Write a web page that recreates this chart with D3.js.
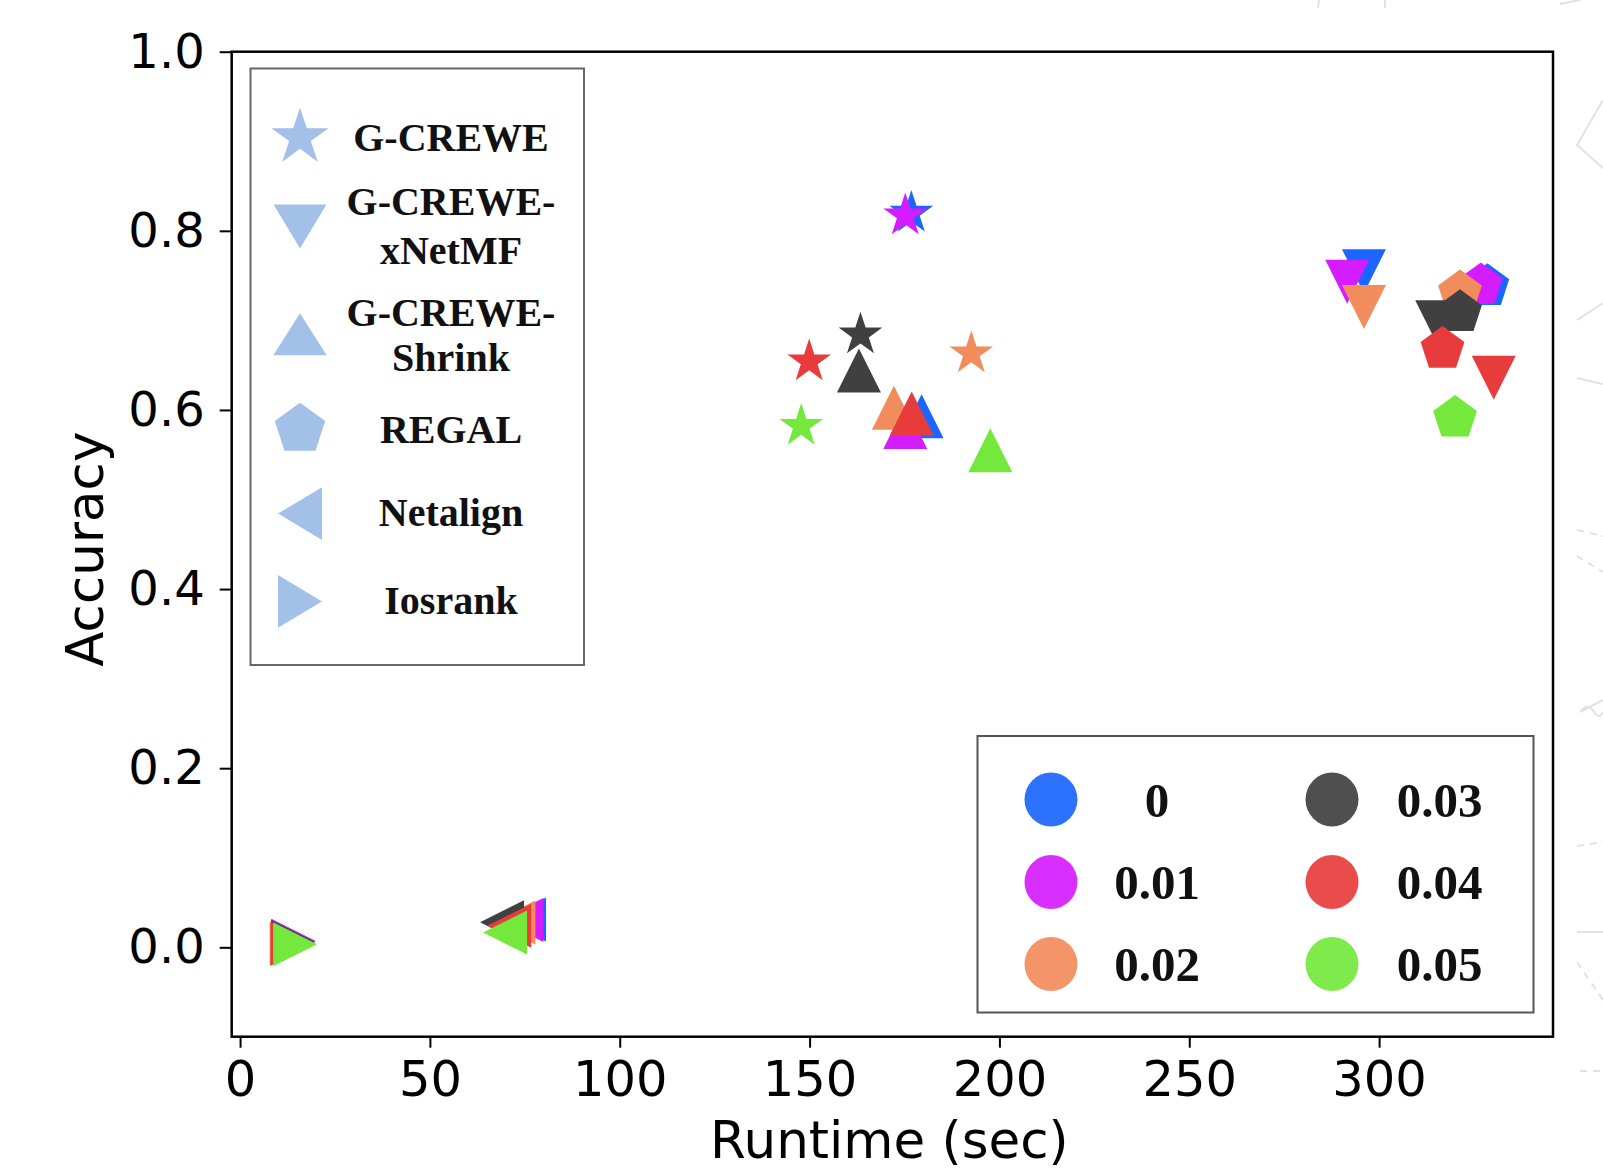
<!DOCTYPE html>
<html>
<head>
<meta charset="utf-8">
<script src="https://cdn.jsdelivr.net/npm/d3@7"></script>
<style>
  body { margin: 0; background: #fff; }
  svg { display: block; }
</style>
</head>
<body>
<div id="chart"></div>
<script>
// noise levels, one colour per level
var noiseLevels = ["0", "0.01", "0.02", "0.03", "0.04", "0.05"];
var noiseColors = ["#1a66ff", "#d51cff", "#f28c5c", "#404040", "#e83c3c", "#74e83c"];

// methods and the marker used for each
var methods = ["G-CREWE", "G-CREWE-xNetMF", "G-CREWE-Shrink", "REGAL", "Netalign", "Iosrank"];
var methodLabels = [["G-CREWE"], ["G-CREWE-", "xNetMF"], ["G-CREWE-", "Shrink"], ["REGAL"], ["Netalign"], ["Iosrank"]];
var methodShapes = ["star", "down", "up", "pentagon", "left", "right"];

// runtime (sec) per noise level (null = not plotted)
var runtimeGCrewe  = [176.8, 175.2, 192.6, 163.4, 149.9, 147.8];
var runtimeXNetMF  = [296.0, 291.6, 296.0, 315.3, 330.2, null];
var runtimeShrink  = [179.5, 175.2, 172.2, 163.0, 176.9, 197.6];
var runtimeRegal   = [328.5, 326.8, 321.3, 321.3, 316.7, 320.0];
var runtimeNetalign = [74.8, 74.1, 72.0, 69.0, 70.9, 69.8];
var runtimeIosrank = [14.0, 14.1, 13.6, 14.0, 13.8, 14.5];

// accuracy per noise level
var accGCrewe  = [0.820, 0.817, 0.663, 0.684, 0.654, 0.582];
var accXNetMF  = [0.755, 0.743, 0.715, 0.698, 0.636, null];
var accShrink  = [0.593, 0.581, 0.6025, 0.644, 0.596, 0.555];
var accRegal   = [0.738, 0.739, 0.731, 0.709, 0.668, 0.591];
var accNetalign = [0.031, 0.0305, 0.0277, 0.028, 0.024, 0.0165];
var accIosrank = [0.007, 0.007, 0.004, 0.006, 0.004, 0.0035];

var xTicks = [0, 50, 100, 150, 200, 250, 300];
var yTicks = [0.0, 0.2, 0.4, 0.6, 0.8, 1.0];

var runtimes = [runtimeGCrewe, runtimeXNetMF, runtimeShrink, runtimeRegal, runtimeNetalign, runtimeIosrank];
var accuracies = [accGCrewe, accXNetMF, accShrink, accRegal, accNetalign, accIosrank];

// custom symbol types, size = radius squared, aspect stretches the base of triangles
function triangle(dir, aspect) {
    aspect = aspect || 1;
    return {
        draw: function(ctx, size) {
            var r = Math.sqrt(size), b = r * aspect;
            var pts;
            if (dir === "up") pts = [[0, -r], [-b, r], [b, r]];
            if (dir === "down") pts = [[0, r], [-b, -r], [b, -r]];
            if (dir === "left") pts = [[-r, 0], [r, -b], [r, b]];
            if (dir === "right") pts = [[r, 0], [-r, -b], [-r, b]];
            ctx.moveTo(pts[0][0], pts[0][1]);
            ctx.lineTo(pts[1][0], pts[1][1]);
            ctx.lineTo(pts[2][0], pts[2][1]);
            ctx.closePath();
        }
    };
}
var starType = {
    draw: function(ctx, size) {
        var R = Math.sqrt(size), r = R * 0.381966;
        for (var i = 0; i < 10; i++) {
            var a = -Math.PI / 2 + i * Math.PI / 5, rad = i % 2 ? r : R;
            if (i === 0) ctx.moveTo(rad * Math.cos(a), rad * Math.sin(a));
            else ctx.lineTo(rad * Math.cos(a), rad * Math.sin(a));
        }
        ctx.closePath();
    }
};
var pentagonType = {
    draw: function(ctx, size) {
        var R = Math.sqrt(size);
        for (var i = 0; i < 5; i++) {
            var a = -Math.PI / 2 + i * 2 * Math.PI / 5;
            if (i === 0) ctx.moveTo(R * Math.cos(a), R * Math.sin(a));
            else ctx.lineTo(R * Math.cos(a), R * Math.sin(a));
        }
        ctx.closePath();
    }
};
function shapeType(name, aspect) {
    if (name === "star") return starType;
    if (name === "pentagon") return pentagonType;
    return triangle(name, aspect);
}
var markerSize = {star: 23, pentagon: 23, up: 22, down: 22, left: 22, right: 22};
var legendSize = {star: 30, pentagon: 26.5, up: 21, down: 22, left: 22, right: 22};
var legendAspect = {up: 1.27, down: 1.2, left: 1.2, right: 1.2};

var W = 1603, H = 1176;
var margin = {top: 51.7, left: 231.7},
    width = 1321.3,
    height = 985;

var svg = d3.select("#chart").append("svg")
    .attr("width", W)
    .attr("height", H);

// faint background scraps at the right edge of the original screenshot
var deco = svg.append("g").attr("fill", "none").attr("stroke", "#e2e2e2").attr("stroke-width", 2);
deco.append("path").attr("d", "M1603,100 L1577,145 L1603,168");
deco.append("path").attr("d", "M1577,320 L1603,303");
deco.append("path").attr("d", "M1577,378 L1603,384");
deco.append("path").attr("d", "M1577,530 L1603,536").attr("stroke-dasharray", "7,6");
deco.append("path").attr("d", "M1577,556 L1603,572").attr("stroke-dasharray", "7,6");
deco.append("path").attr("d", "M1580,712 q8,-10 14,0 q6,8 9,0 M1580,712 L1603,700");
deco.append("path").attr("d", "M1577,846 L1603,842").attr("stroke-dasharray", "7,6");
deco.append("path").attr("d", "M1577,932 L1603,932");
deco.append("path").attr("d", "M1577,962 L1603,1000").attr("stroke-dasharray", "7,6");
deco.append("path").attr("d", "M1580,1071 L1603,1071").attr("stroke-dasharray", "7,6");
deco.append("path").attr("d", "M1319,0 L1318,8 M1385,0 L1385,8 M1560,4 L1580,0");

var g = svg.append("g")
    .attr("transform", `translate(${margin.left},${margin.top})`);

var x = d3.scaleLinear().domain([-2.2, 345.8]).range([0, width]);
var y = d3.scaleLinear().domain([-0.0998, 1.0]).range([height, 0]);

// axes
var xAxis = g.append("g")
    .attr("transform", `translate(0,${height})`)
    .call(d3.axisBottom(x).tickValues(xTicks).tickFormat(d3.format("d")).tickSize(11).tickPadding(13));
var yAxis = g.append("g")
    .call(d3.axisLeft(y).tickValues(yTicks).tickFormat(d3.format(".1f")).tickSize(12).tickPadding(15));
[xAxis, yAxis].forEach(function(ax, k) {
    ax.select(".domain").remove();
    ax.selectAll(".tick line").attr("stroke", "#000").attr("stroke-width", 2);
    ax.selectAll("text")
        .attr("fill", "#000")
        .style("font-family", "'DejaVu Sans', sans-serif")
        .style("font-size", k === 0 ? "49.5px" : "48px");
});

g.append("rect")
    .attr("width", width)
    .attr("height", height)
    .attr("fill", "none")
    .attr("stroke", "#000")
    .attr("stroke-width", 2.5);

g.append("text")
    .attr("x", width / 2 - 3)
    .attr("y", 1158 - margin.top)
    .attr("text-anchor", "middle")
    .style("font-family", "'DejaVu Sans', sans-serif")
    .style("font-size", "51.5px")
    .text("Runtime (sec)");
g.append("text")
    .attr("transform", `translate(${103 - margin.left},${height / 2 + 5}) rotate(-90)`)
    .attr("text-anchor", "middle")
    .style("font-family", "'DejaVu Sans', sans-serif")
    .style("font-size", "51.5px")
    .text("Accuracy");

// build points, noise level outer so later levels draw on top
var points = [];
noiseLevels.forEach(function(lvl, j) {
    methods.forEach(function(m, i) {
        if (runtimes[i][j] == null) return;
        points.push({method: m, shape: methodShapes[i], noise: lvl, color: noiseColors[j],
            runtime: runtimes[i][j], acc: accuracies[i][j]});
    });
});

g.selectAll(".pt")
    .data(points)
    .join("path")
    .attr("class", "pt")
    .attr("transform", function(d) { return `translate(${x(d.runtime)},${y(d.acc)})`; })
    .attr("d", function(d) {
        return d3.symbol().type(shapeType(d.shape)).size(markerSize[d.shape] * markerSize[d.shape])();
    })
    .attr("fill", function(d) { return d.color; });

// method legend (top left)
var leg1 = svg.append("g");
leg1.append("rect")
    .attr("x", 250.5).attr("y", 68.5)
    .attr("width", 333.5).attr("height", 596.5)
    .attr("fill", "#fff")
    .attr("stroke", "#666")
    .attr("stroke-width", 2);
var leg1MarkerY = [137.4, 226.5, 334.3, 429.3, 513.6, 601.4];
var leg1Baselines = [[151.3], [215.4, 264], [326, 370.8], [442.7], [526.2], [613.6]];
methods.forEach(function(m, i) {
    var s = methodShapes[i];
    leg1.append("path")
        .attr("transform", `translate(300,${leg1MarkerY[i]})`)
        .attr("d", d3.symbol().type(shapeType(s, legendAspect[s])).size(legendSize[s] * legendSize[s])())
        .attr("fill", "#a3c0e9");
    methodLabels[i].forEach(function(line, k) {
        leg1.append("text")
            .attr("x", 451)
            .attr("y", leg1Baselines[i][k])
            .attr("text-anchor", "middle")
            .style("font-family", "'Liberation Serif', 'Times New Roman', serif")
            .style("font-weight", "bold")
            .style("font-size", "40px")
            .attr("fill", "#111")
            .text(line);
    });
});

// noise legend (bottom right)
var leg2 = svg.append("g");
leg2.append("rect")
    .attr("x", 977.5).attr("y", 736)
    .attr("width", 556).attr("height", 276.5)
    .attr("fill", "#fff")
    .attr("stroke", "#555")
    .attr("stroke-width", 2);
var colX = [1051, 1332], textX = [1157, 1439.5], rowY = [799.5, 882, 964];
noiseLevels.forEach(function(lvl, j) {
    var c = Math.floor(j / 3), r = j % 3;
    leg2.append("ellipse")
        .attr("cx", colX[c]).attr("cy", rowY[r])
        .attr("rx", 26.5).attr("ry", 27)
        .attr("fill", noiseColors[j])
        .attr("opacity", 0.92);
    leg2.append("text")
        .attr("x", textX[c])
        .attr("y", rowY[r] + 17)
        .attr("text-anchor", "middle")
        .style("font-family", "'Liberation Serif', 'Times New Roman', serif")
        .style("font-weight", "bold")
        .style("font-size", "49px")
        .attr("fill", "#111")
        .text(lvl);
});
</script>
</body>
</html>
